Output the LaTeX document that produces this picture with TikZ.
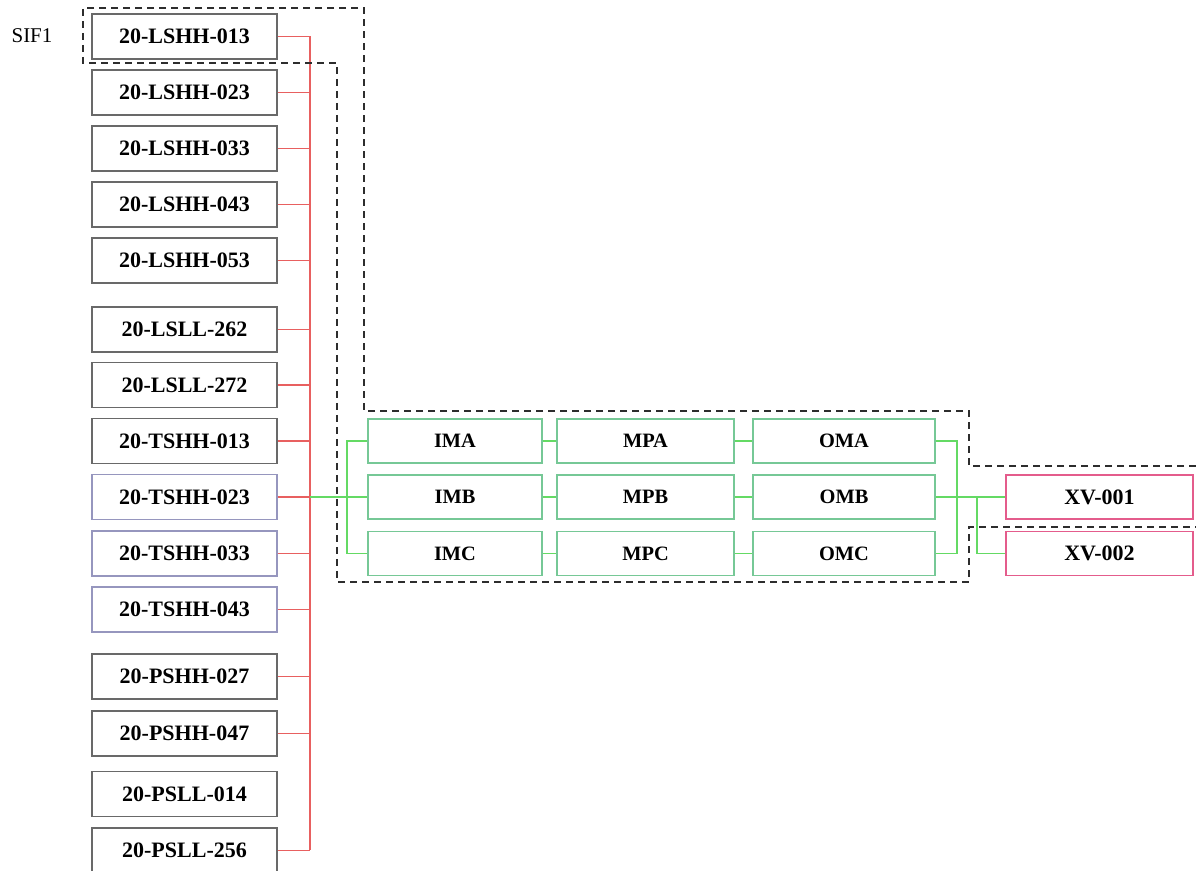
\documentclass[tikz,border=0pt]{standalone}
\usepackage{fontspec}
\setmainfont{Liberation Serif}
\usepackage{xcolor}
\definecolor{sifred}{RGB}{232,96,96}
\definecolor{sifgreen}{RGB}{100,218,100}
\definecolor{boxgreen}{RGB}{118,200,150}
\definecolor{boxgray}{RGB}{105,105,105}
\definecolor{boxblue}{RGB}{150,150,190}
\definecolor{boxpink}{RGB}{228,92,140}
\definecolor{dashgray}{RGB}{45,45,45}

\begin{document}
\begin{tikzpicture}[x=0.5pt,y=-0.5pt,
    sensor/.style={draw=boxgray,line width=0.6pt,minimum width=92.5pt,minimum height=22.5pt,inner sep=0pt,font=\fontsize{11}{13}\selectfont\bfseries},
    logic/.style={draw=boxgreen,line width=0.6pt,minimum height=22pt,inner sep=0pt,font=\fontsize{10.2}{12}\selectfont\bfseries},
    valve/.style={draw=boxpink,line width=0.6pt,minimum width=93.5pt,minimum height=22pt,inner sep=0pt,font=\fontsize{11}{13}\selectfont\bfseries},
    redwire/.style={sifred,line width=0.55pt},
    greenwire/.style={sifgreen,line width=0.55pt},
    sifzone/.style={dashgray,line width=1pt,dash pattern=on 3.5pt off 2.5pt}
]
\useasboundingbox (0,0) rectangle (1196,871);

% input sensors
\node[sensor] (lshh013) at (184.5,36.5) {20-LSHH-013};
\node[sensor] (lshh023) at (184.5,92.5) {20-LSHH-023};
\node[sensor] (lshh033) at (184.5,148.5) {20-LSHH-033};
\node[sensor] (lshh043) at (184.5,204.5) {20-LSHH-043};
\node[sensor] (lshh053) at (184.5,260.5) {20-LSHH-053};
\node[sensor] (lsll262) at (184.5,329.5) {20-LSLL-262};
\node[sensor] (lsll272) at (184.5,385) {20-LSLL-272};
\node[sensor] (tshh013) at (184.5,441) {20-TSHH-013};
\node[sensor,draw=boxblue] (tshh023) at (184.5,497) {20-TSHH-023};
\node[sensor,draw=boxblue] (tshh033) at (184.5,553.5) {20-TSHH-033};
\node[sensor,draw=boxblue] (tshh043) at (184.5,609.5) {20-TSHH-043};
\node[sensor] (pshh027) at (184.5,676.5) {20-PSHH-027};
\node[sensor] (pshh047) at (184.5,733.5) {20-PSHH-047};
\node[sensor] (psll014) at (184.5,794) {20-PSLL-014};
\node[sensor] (psll256) at (184.5,850.5) {20-PSLL-256};

\node[font=\fontsize{10.5}{12}\selectfont] (sif) at (32,36) {SIF1};

% logic solver
\node[logic,minimum width=87pt] (ima) at (455,441) {IMA};
\node[logic,minimum width=87pt] (imb) at (455,497) {IMB};
\node[logic,minimum width=87pt] (imc) at (455,553.5) {IMC};
\node[logic,minimum width=88.5pt] (mpa) at (645.5,441) {MPA};
\node[logic,minimum width=88.5pt] (mpb) at (645.5,497) {MPB};
\node[logic,minimum width=88.5pt] (mpc) at (645.5,553.5) {MPC};
\node[logic,minimum width=91pt] (oma) at (844,441) {OMA};
\node[logic,minimum width=91pt] (omb) at (844,497) {OMB};
\node[logic,minimum width=91pt] (omc) at (844,553.5) {OMC};

% final elements
\node[valve] (xv001) at (1099.5,497) {XV-001};
\node[valve] (xv002) at (1099.5,553.5) {XV-002};

% bus positions
\coordinate (rbus) at (310,0);
\coordinate (gin) at (347,0);
\coordinate (gout) at (957,0);
\coordinate (gsplit) at (977,0);

% red voting bus
\draw[redwire] (lshh013.east -| rbus) -- (psll256.east -| rbus);
\draw[redwire] (lshh013.east) -- (lshh013.east -| rbus);
\draw[redwire] (lshh023.east) -- (lshh023.east -| rbus);
\draw[redwire] (lshh033.east) -- (lshh033.east -| rbus);
\draw[redwire] (lshh043.east) -- (lshh043.east -| rbus);
\draw[redwire] (lshh053.east) -- (lshh053.east -| rbus);
\draw[redwire] (lsll262.east) -- (lsll262.east -| rbus);
\draw[redwire] (lsll272.east) -- (lsll272.east -| rbus);
\draw[redwire] (tshh013.east) -- (tshh013.east -| rbus);
\draw[redwire] (tshh023.east) -- (tshh023.east -| rbus);
\draw[redwire] (tshh033.east) -- (tshh033.east -| rbus);
\draw[redwire] (tshh043.east) -- (tshh043.east -| rbus);
\draw[redwire] (pshh027.east) -- (pshh027.east -| rbus);
\draw[redwire] (pshh047.east) -- (pshh047.east -| rbus);
\draw[redwire] (psll256.east) -- (psll256.east -| rbus);

% green signal path
\draw[greenwire] (tshh023.east -| rbus) -- (tshh023.east -| gin);
\draw[greenwire] (ima.west) -- (ima.west -| gin) -- (imc.west -| gin) -- (imc.west);
\draw[greenwire] (imb.west -| gin) -- (imb.west);
\draw[greenwire] (ima) -- (mpa);
\draw[greenwire] (imb) -- (mpb);
\draw[greenwire] (imc) -- (mpc);
\draw[greenwire] (mpa) -- (oma);
\draw[greenwire] (mpb) -- (omb);
\draw[greenwire] (mpc) -- (omc);
\draw[greenwire] (oma.east) -- (oma.east -| gout) -- (omc.east -| gout) -- (omc.east);
\draw[greenwire] (omb) -- (xv001);
\draw[greenwire] (omb.east -| gsplit) |- (xv002.west);

% SIF boundary
\draw[sifzone] (1196,466) -- (969,466) -- (969,411) -- (364,411) -- (364,8) -- (83,8)
  -- (83,63) -- (337,63) -- (337,582) -- (969,582) -- (969,527) -- (1196,527);
\end{tikzpicture}
\end{document}
